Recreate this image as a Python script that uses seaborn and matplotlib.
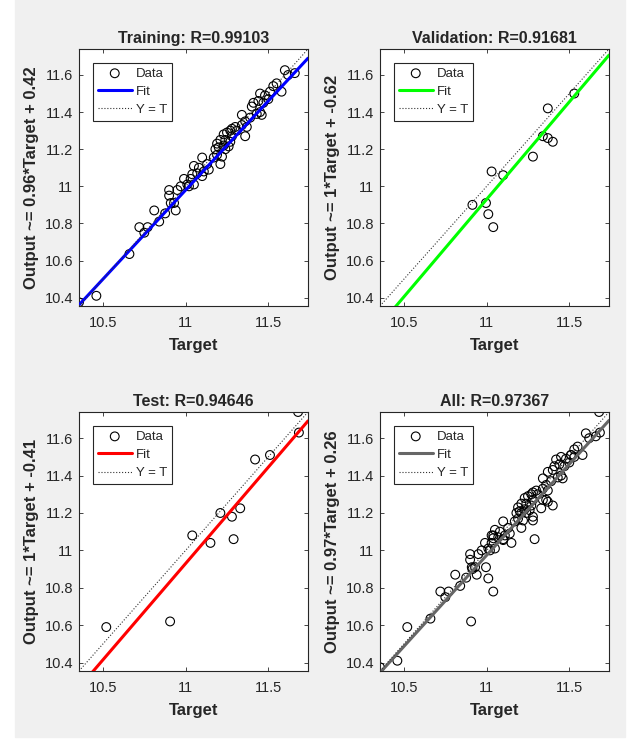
import numpy as np
import pandas as pd
import seaborn as sns
import matplotlib
matplotlib.use('Agg')
import matplotlib.pyplot as plt
from matplotlib.patches import Rectangle
from matplotlib.ticker import FuncFormatter

# values
train_target = [10.355, 10.46, 10.66, 10.72, 10.75, 10.77, 10.81, 10.84, 10.876, 10.90,
                10.90, 10.91, 10.94, 10.93, 10.95, 11.02, 10.97, 10.99, 11.01, 11.05,
                11.03, 11.10, 11.04, 11.07, 11.11, 11.14, 11.08, 11.05, 11.13, 11.10,
                11.21, 11.17, 11.22, 11.19, 11.24, 11.18, 11.20, 11.19, 11.26, 11.23,
                11.21, 11.27, 11.24, 11.28, 11.23, 11.25, 11.36, 11.27, 11.31, 11.28,
                11.30, 11.37, 11.34, 11.36, 11.39, 11.34, 11.46, 11.43, 11.45, 11.40,
                11.41, 11.47, 11.44, 11.50, 11.48, 11.45, 11.51, 11.53, 11.58, 11.55,
                11.66, 11.62, 11.60]
train_output = [10.375, 10.41, 10.635, 10.78, 10.75, 10.78, 10.87, 10.81, 10.854, 10.98,
                10.95, 10.91, 10.87, 10.91, 10.98, 11.00, 11.00, 11.04, 11.01, 11.01,
                11.04, 11.055, 11.065, 11.07, 11.08, 11.09, 11.10, 11.11, 11.12, 11.155,
                11.12, 11.155, 11.16, 11.17, 11.20, 11.20, 11.21, 11.23, 11.215, 11.22,
                11.25, 11.24, 11.25, 11.27, 11.28, 11.29, 11.27, 11.30, 11.30, 11.31,
                11.32, 11.32, 11.33, 11.35, 11.37, 11.385, 11.385, 11.39, 11.40, 11.43,
                11.45, 11.45, 11.46, 11.47, 11.49, 11.50, 11.51, 11.54, 11.51, 11.555,
                11.61, 11.60, 11.626]

val_target = [10.914, 10.996, 11.01, 11.03, 11.04, 11.10, 11.28, 11.34, 11.37, 11.40,
              11.37, 11.53]
val_output = [10.90, 10.91, 10.85, 11.08, 10.78, 11.06, 11.16, 11.27, 11.26, 11.24,
              11.42, 11.50]

test_target = [10.52, 10.906, 11.04, 11.15, 11.21, 11.28, 11.29, 11.33, 11.42, 11.51,
               11.68, 11.685]
test_output = [10.59, 10.62, 11.08, 11.04, 11.20, 11.18, 11.06, 11.225, 11.486, 11.51,
               11.74, 11.63]

titles = ['Training: R=0.99103', 'Validation: R=0.91681', 'Test: R=0.94646', 'All: R=0.97367']
ylabels = ['Output ~= 0.96*Target + 0.42', 'Output ~= 1*Target + -0.62',
           'Output ~= 1*Target + -0.41', 'Output ~= 0.97*Target + 0.26']
fit_slope = [0.96, 1.05, 1.03, 0.974]
fit_icpt = [0.42, -0.62, -0.40, 0.26]
fit_colors = ['#0000ff', '#00ff00', '#ff0000', '#666666']

xticks = [10.5, 11, 11.5]
yticks = [10.4, 10.6, 10.8, 11, 11.2, 11.4, 11.6]

sns.set_style('ticks')
plt.rcParams['font.family'] = ['Liberation Sans Narrow', 'Liberation Sans', 'DejaVu Sans']

W, H = 635, 740
fig = plt.figure(figsize=(W / 100, H / 100), dpi=100, facecolor='white')
fig.add_artist(Rectangle((15 / W, 0.004), 610 / W, 1, transform=fig.transFigure,
                         color='#f0f0f0', zorder=-10))

# axes boxes in pixels: left, top, right, bottom
boxes = [(79, 49, 308, 306), (380, 49, 609, 306), (79, 412, 308, 671), (380, 412, 609, 671)]

sets = [
    pd.DataFrame({'t': train_target, 'y': train_output}),
    pd.DataFrame({'t': val_target, 'y': val_output}),
    pd.DataFrame({'t': test_target, 'y': test_output}),
]
sets.append(pd.concat(sets, ignore_index=True))

lo = min(sets[3]['t'].min(), sets[3]['y'].min())
hi = max(sets[3]['t'].max(), sets[3]['y'].max())

fmt = FuncFormatter(lambda v, p: '%g' % v)

for i in range(4):
    l, t, r, b = boxes[i]
    ax = fig.add_axes([l / W, 1 - b / H, (r - l) / W, (b - t) / H])
    df = sets[i]

    sns.scatterplot(data=df, x='t', y='y', ax=ax, marker='o', s=40,
                    facecolors='none', edgecolors='black', linewidth=0.8,
                    label='Data', zorder=2)

    lim = pd.DataFrame({'x': [lo, hi]})
    lim['fit'] = fit_slope[i] * lim['x'] + fit_icpt[i]
    sns.lineplot(data=lim, x='x', y='fit', ax=ax, color=fit_colors[i], linewidth=2.2,
                 label='Fit', zorder=3)
    sns.lineplot(data=lim, x='x', y='x', ax=ax, color='#333333', linewidth=0.8,
                 linestyle=':', label='Y = T', zorder=3)

    ax.set_xlim(lo, hi)
    ax.set_ylim(lo, hi)
    ax.set_xticks(xticks)
    ax.set_yticks(yticks)
    ax.xaxis.set_major_formatter(fmt)
    ax.yaxis.set_major_formatter(fmt)
    ax.tick_params(direction='in', length=3, width=0.6, top=True, right=True,
                   labelsize=10.5, colors='#262626')
    ax.tick_params(axis='x', pad=7)
    ax.tick_params(axis='y', pad=4)
    for s in ax.spines.values():
        s.set_color('#262626')
        s.set_linewidth(0.8)

    ax.set_title(titles[i], fontsize=11.5, fontweight='bold', pad=4)
    ax.set_xlabel('Target', fontsize=12, fontweight='bold', labelpad=6)
    ax.set_ylabel(ylabels[i], fontsize=12, fontweight='bold', labelpad=4)

    leg = ax.legend(loc='upper left', bbox_to_anchor=(0.061, 0.946), borderaxespad=0,
                    fontsize=9.5, fancybox=False, framealpha=1, edgecolor='#262626',
                    handlelength=2.6, handletextpad=0.3, borderpad=0.35,
                    labelspacing=0.45)
    leg.get_frame().set_linewidth(0.8)

fig.savefig('out.png', dpi=100, facecolor=fig.get_facecolor())
